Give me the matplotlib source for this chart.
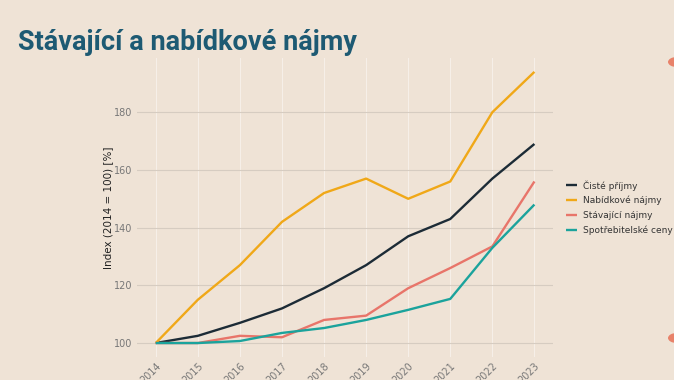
import matplotlib
matplotlib.use("Agg")
import matplotlib.pyplot as plt
from matplotlib.patches import Circle

# Data
years = [2014, 2015, 2016, 2017, 2018, 2019, 2020, 2021, 2022, 2023]
ciste_prijmy = [100, 102.5, 107, 112, 119, 127, 137, 143, 157, 169]
nabidkove = [100, 115, 127, 142, 152, 157, 150, 156, 180, 194]
stavajici = [100, 100, 102.5, 102, 108, 109.5, 119, 126, 133.5, 156]
spotrebitelske = [100, 100, 100.7, 103.5, 105.2, 108, 111.5, 115.3, 133, 148]

series_names = ["Čisté příjmy", "Nabídkové nájmy", "Stávající nájmy", "Spotřebitelské ceny"]
series = [ciste_prijmy, nabidkove, stavajici, spotrebitelske]
colors = ["#1c2b36", "#f0a818", "#e8756a", "#1ba39c"]

bg = "#efe3d6"
fig = plt.figure(figsize=(6.74, 3.8), dpi=100, facecolor=bg)
ax = fig.add_axes([0.203, 0.0616, 0.618, 0.785])
ax.set_facecolor(bg)

for name, vals, col in zip(series_names, series, colors):
    ax.plot(years, vals, color=col, linewidth=1.7, label=name, solid_capstyle="butt")

ax.set_xlim(2014 - 0.45, 2023 + 0.45)
ax.set_ylim(95.3, 198.7)
ax.set_yticks([100, 120, 140, 160, 180])
ax.set_xticks(years)
ax.set_xticklabels([str(y) for y in years], rotation=45, ha="right", rotation_mode="anchor")

# grid: horizontal gray, vertical faint white
ax.yaxis.grid(True, color="#d6ccc1", linewidth=0.8)
ax.xaxis.grid(True, color="#f6efe8", linewidth=0.8)
ax.set_axisbelow(True)
for s in ax.spines.values():
    s.set_visible(False)
ax.tick_params(length=0, labelsize=7, labelcolor="#777777", pad=3)
ax.set_ylabel("Index (2014 = 100) [%]", fontsize=7.5, color="#222222", labelpad=1)

leg = ax.legend(loc="center left", bbox_to_anchor=(1.01, 0.5), frameon=False,
                fontsize=6.5, handlelength=1.3, labelspacing=0.6, handletextpad=0.6)
for t in leg.get_texts():
    t.set_color("#333333")

fig.text(0.027, 0.888, "Stávající a nabídkové nájmy", fontsize=19.5, fontweight="bold",
         color="#1d5a73", family=["Liberation Sans Narrow", "Roboto", "DejaVu Sans"],
         va="center", ha="left")

# decorative slide circles on the right edge
for yc in [1 - 62 / 380, 1 - 338 / 380]:
    c = Circle((1.0 + 3 / 674, yc), 9 / 674, transform=fig.transFigure,
               facecolor="#e8826a", edgecolor="none")
    fig.patches.append(c)

fig.savefig("out.png", dpi=100, facecolor=bg)
